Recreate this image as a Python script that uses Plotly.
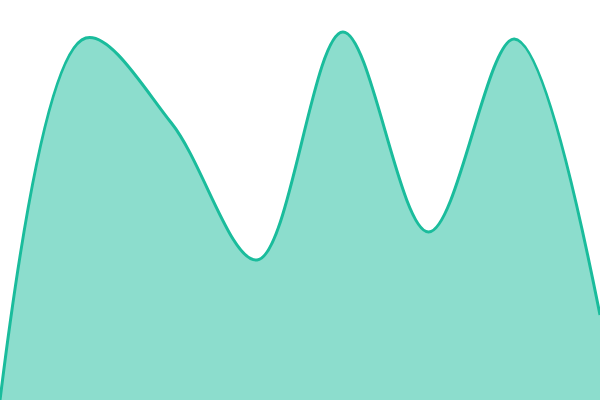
import plotly.graph_objects as go

# data (one value per evenly spaced step)
steps = [0, 1, 2, 3, 4, 5, 6, 7]
values = [0, 362, 277, 140, 368, 168, 361, 85]

fig = go.Figure()
fig.add_trace(go.Scatter(
	x=steps,
	y=values,
	mode="lines",
	line=dict(color="#1abc9c", width=3, shape="spline", smoothing=1),
	fill="tozeroy",
	fillcolor="rgba(26,188,156,0.5)",
	hoverinfo="skip",
))

fig.update_layout(
	width=600,
	height=400,
	margin=dict(l=0, r=0, t=0, b=0),
	paper_bgcolor="white",
	plot_bgcolor="white",
	showlegend=False,
	xaxis=dict(visible=False, range=[0, 7]),
	yaxis=dict(visible=False, range=[0, 400]),
)

# page body has an 8px margin by default, drop it so the chart fills the window
fig.write_html(
	"out.html",
	config=dict(displayModeBar=False),
	post_script="document.body.style.margin='0';document.body.style.overflow='hidden';",
)
